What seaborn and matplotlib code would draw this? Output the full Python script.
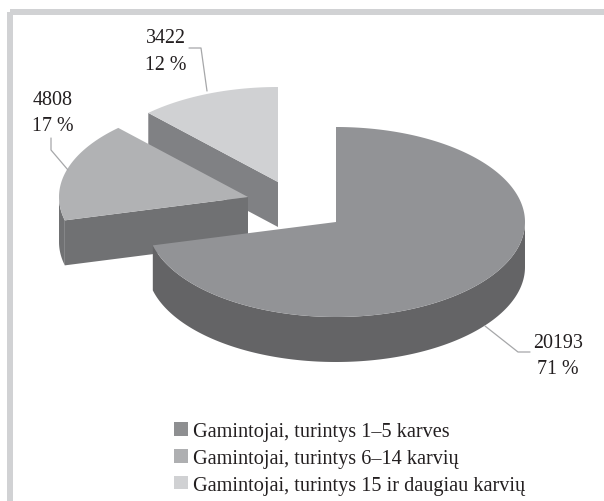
import numpy as np
import matplotlib
matplotlib.use("Agg")
import matplotlib.pyplot as plt
from matplotlib.patches import Patch, Rectangle
import seaborn as sns

categories = ["Gamintojai, turintys 1–5 karves",
              "Gamintojai, turintys 6–14 karvių",
              "Gamintojai, turintys 15 ir daugiau karvių"]
values = [20193, 4808, 3422]
percents = ["71 %", "17 %", "12 %"]
top_colors = ["#929396", "#b1b2b4", "#d0d1d3"]
side_colors = ["#646466", "#707173", "#808184"]
legend_colors = ["#8e8f91", "#aeafb1", "#d0d1d3"]

sns.set_theme(style="white", rc={"font.family": ["Liberation Serif", "DejaVu Serif"]})

W, H = 604, 502
fig = plt.figure(figsize=(W / 100, H / 100), dpi=100, facecolor="white")
ax = fig.add_axes([0, 0, 1, 1])
ax.set_xlim(0, W)
ax.set_ylim(H, 0)
ax.axis("off")

# frame
ax.add_patch(Rectangle((10, 13), W + 20, H + 20, fill=False, ec="#d1d2d4", lw=4.3))

RX, RY, DEPTH = 189, 95, 45
centers = [(336, 223), (248, 198), (278, 183)]

frac = np.array(values, float) / sum(values)
edges = np.concatenate([[0], np.cumsum(frac) * 360])


def rim(c, a0, a1, dz=0):
    t = np.radians(np.linspace(a0, a1, max(int(abs(a1 - a0)) * 2, 2)))
    return c[0] + RX * np.sin(t), c[1] - RY * np.cos(t) + dz


for i in [2, 1, 0]:
    c = centers[i]
    a0, a1 = edges[i], edges[i + 1]
    # outer wall where the rim faces the viewer (90..270 deg clockwise from top)
    lo, hi = max(a0, 90), min(a1, 270)
    if lo < hi:
        xt, yt = rim(c, lo, hi)
        xb, yb = rim(c, lo, hi, DEPTH)
        ax.fill(np.r_[xt, xb[::-1]], np.r_[yt, yb[::-1]], color=side_colors[i], lw=0)
    # cut face at the start of the slice, if it faces the viewer
    if a0 > 90:
        xe, ye = rim(c, a0, a0)
        ax.fill([c[0], xe[0], xe[0], c[0]],
                [c[1], ye[0], ye[0] + DEPTH, c[1] + DEPTH],
                color=side_colors[i], lw=0)
    # top
    xt, yt = rim(c, a0, a1)
    ax.fill(np.r_[c[0], xt], np.r_[c[1], yt], color=top_colors[i], lw=0)

# leaders
lc = "#a6a7a9"
ax.plot([485, 518, 530], [327, 353, 353], color=lc, lw=0.9)
ax.plot([51, 51, 68], [139, 151, 171], color=lc, lw=0.9)
ax.plot([189, 201, 207], [49, 49, 92], color=lc, lw=0.9)

# data labels
fs = 14.4
tc = "#231f20"
label_pos = [(558, 348, 374), (53, 105, 131), (166, 43, 70)]
for v, p, (x, y1, y2) in zip(values, percents, label_pos):
    ax.text(x, y1, str(v), ha="center", va="baseline", fontsize=fs, color=tc)
    ax.text(x, y2, p, ha="center", va="baseline", fontsize=fs, color=tc)

# legend
handles = [Patch(fc=c, ec="none") for c in legend_colors]
ax.legend(handles, categories, loc="upper left", bbox_to_anchor=(174 / W, 1 - 423 / H),
          frameon=False, fontsize=14.6, labelcolor=tc, handlelength=0.68, handleheight=0.68,
          handletextpad=0.27, labelspacing=0.38, borderpad=0, borderaxespad=0)

fig.savefig("out.png", dpi=100)
